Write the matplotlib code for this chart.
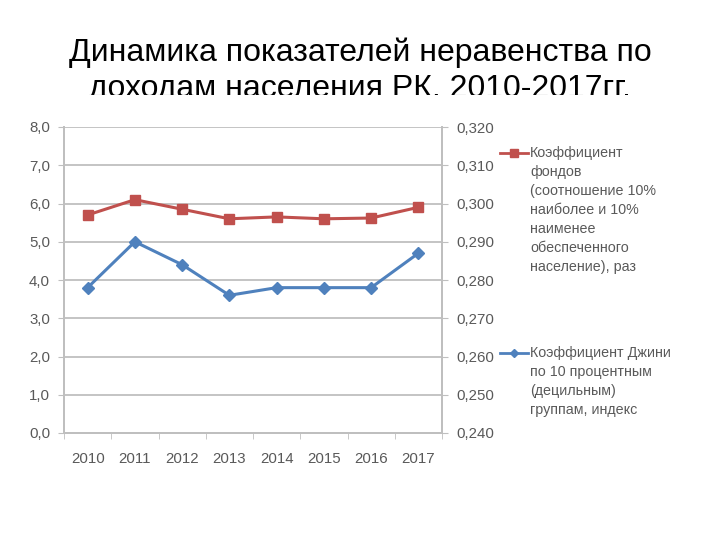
import matplotlib.pyplot as plt
from matplotlib.lines import Line2D
from matplotlib.transforms import Bbox, TransformedBbox

plt.rcParams['font.family'] = ['Liberation Sans', 'DejaVu Sans']

# Data
years = ['2010', '2011', '2012', '2013', '2014', '2015', '2016', '2017']
funds_coef = [5.7, 6.1, 5.85, 5.6, 5.65, 5.6, 5.62, 5.9]
gini_coef = [0.278, 0.290, 0.284, 0.276, 0.278, 0.278, 0.278, 0.287]

red = '#C0504D'
blue = '#4F81BD'
grid_col = '#BFBFBF'
txt_col = '#595959'

fig = plt.figure(figsize=(7.2, 5.4), dpi=100)

# Title (second line is cut off by the chart picture in the original)
title = fig.text(0.5, 1 - 37 / 540, 'Динамика показателей неравенства по\nдоходам населения РК, 2010-2017гг.',
                 ha='center', va='top', fontsize=23, color='black', linespacing=1.3)
clip = TransformedBbox(Bbox([[0, 1 - 95 / 540], [1, 1]]), fig.transFigure)
title.set_clip_box(clip)
title.set_clip_on(True)

ax = fig.add_axes([64 / 720, 1 - 433 / 540, 378 / 720, 306 / 540])
ax2 = ax.twinx()

x = list(range(len(years)))
ax.plot(x, funds_coef, color=red, lw=2.2, marker='s', ms=7.5, zorder=3)
ax2.plot(x, gini_coef, color=blue, lw=2.2, marker='D', ms=6, zorder=3)

ax.set_xlim(-0.5, len(years) - 0.5)
ax.set_ylim(0, 8)
ax2.set_ylim(0.24, 0.32)
ax.set_yticks([i for i in range(9)])
ax.set_yticklabels([f'{i},0' for i in range(9)])
gt = [0.24 + 0.01 * i for i in range(9)]
ax2.set_yticks(gt)
ax2.set_yticklabels([f'{v:.3f}'.replace('.', ',') for v in gt])

ax.set_xticks(x)
ax.set_xticklabels(years)
ax.set_xticks([i - 0.5 for i in range(len(years) + 1)], minor=True)
ax.tick_params(axis='x', which='major', length=0, pad=14, labelsize=10.8, labelcolor=txt_col)
ax.tick_params(axis='x', which='minor', length=4, color=grid_col)
ax.tick_params(axis='y', length=4, color=grid_col, labelsize=10.8, labelcolor=txt_col, pad=6)
ax2.tick_params(axis='y', length=4, color=grid_col, labelsize=10.8, labelcolor=txt_col, pad=6)

ax.grid(axis='y', color=grid_col, lw=1.3)
ax.set_axisbelow(True)
for a in (ax, ax2):
    a.spines['top'].set_visible(False)
    for s in ('left', 'right', 'bottom'):
        a.spines[s].set_color(grid_col)
        a.spines[s].set_linewidth(1.3)

# Legends drawn beside the chart, handle aligned to first line like the original
legend_items = [
    (red, 's', 6, 153 / 540, 'Коэффициент\nфондов\n(соотношение 10%\nнаиболее и 10%\nнаименее\nобеспеченного\nнаселение), раз'),
    (blue, 'D', 4.5, 353 / 540, 'Коэффициент Джини\nпо 10 процентным\n(децильным)\nгруппам, индекс'),
]
for col, mk, ms, yy, lab in legend_items:
    fig.add_artist(Line2D([500 / 720, 528 / 720], [1 - yy, 1 - yy], color=col, lw=2,
                          transform=fig.transFigure))
    fig.add_artist(Line2D([514 / 720], [1 - yy], color=col, marker=mk, ms=ms,
                          transform=fig.transFigure))
    fig.text(530 / 720, 1 - yy + 7 / 540, lab, ha='left', va='top', fontsize=10.3,
             color=txt_col, linespacing=1.45)

fig.savefig('out.png', dpi=100, facecolor='white')
